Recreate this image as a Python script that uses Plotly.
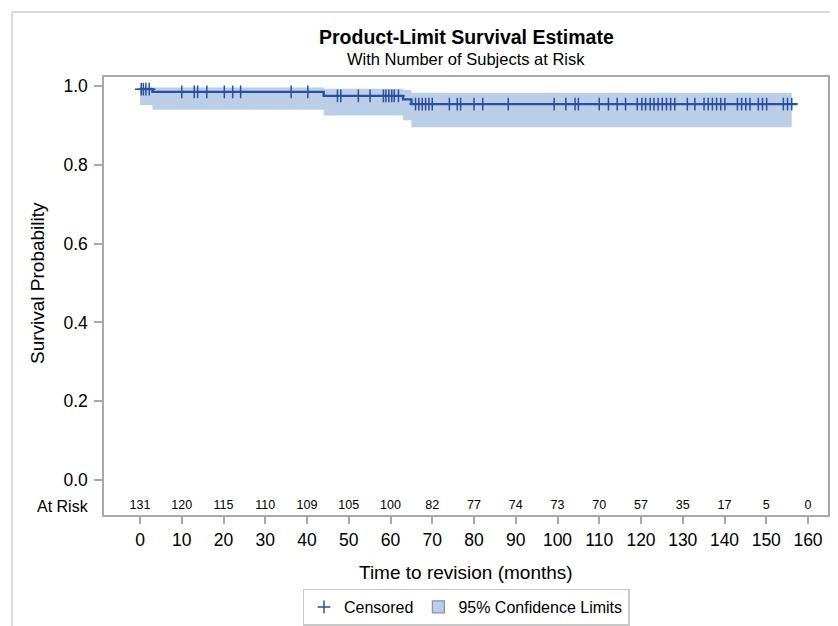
import plotly.graph_objects as go

# ---- data ----
event_times = [0, 3, 44, 63, 65]
survival = [0.992, 0.985, 0.975, 0.966, 0.954]
curve_end = 157.3

ci_times = [0, 3, 44, 63, 65]
ci_upper = [0.998, 0.996, 0.993, 0.990, 0.983]
ci_lower = [0.952, 0.940, 0.925, 0.913, 0.895]
ci_end = 156.1

censored_times = [0.3, 0.8, 1.4, 2.2, 10.0, 13.0, 13.8, 16.0, 20.2, 22.2, 24.1,
                  36.2, 40.2, 47.3, 48.1, 52.3, 55.1, 58.3, 58.9, 59.6, 60.3,
                  60.9, 61.9, 66.0, 66.8, 67.6, 68.4, 69.2, 70.0, 74.1, 76.0,
                  76.8, 80.0, 82.1, 88.2, 99.2, 102.0, 104.2, 105.0, 110.0,
                  112.2, 114.3, 116.3, 119.1, 120.2, 121.1, 122.2, 123.1,
                  124.1, 125.1, 126.1, 127.1, 128.1, 131.1, 132.9, 135.1,
                  136.1, 137.1, 138.1, 139.1, 140.1, 143.1, 144.1, 145.1,
                  146.1, 148.1, 149.1, 150.1, 154.1, 155.1, 156.1]

risk_times = [0, 10, 20, 30, 40, 50, 60, 70, 80, 90, 100, 110, 120, 130, 140, 150, 160]
at_risk = [131, 120, 115, 110, 109, 105, 100, 82, 77, 74, 73, 70, 57, 35, 17, 5, 0]

x_ticks = list(range(0, 161, 10))
y_ticks = [0.0, 0.2, 0.4, 0.6, 0.8, 1.0]
y_tick_labels = ["0.0", "0.2", "0.4", "0.6", "0.8", "1.0"]

# ---- styling ----
FONT = "Liberation Sans, Arial, sans-serif"
LINE_C = "#2B4FA0"
BAND_C = "#BACEE7"
AXIS_C = "#A8A8A8"

OFF = 8  # page body margin of the html page
# plot area in reference (screen) pixels
L0, R0, T0, B0 = 104, 828, 77, 515
W, H = 838 - OFF, 626 - OFF
L, R, T, B = L0 - OFF, R0 - OFF, T0 - OFF, B0 - OFF
PW, PH = R - L, B - T


def px_x(px):
    return (px - L0) / PW


def px_y(py):
    return (B0 - py) / PH


def step_path(times, values, end):
    xs, ys = [], []
    for i, (t, v) in enumerate(zip(times, values)):
        nxt = times[i + 1] if i + 1 < len(times) else end
        xs += [t, nxt]
        ys += [v, v]
    return xs, ys


def surv_at(t):
    val = survival[0]
    for et, s in zip(event_times, survival):
        if t >= et:
            val = s
    return val


ux, uy = step_path(ci_times, ci_upper, ci_end)
lx, ly = step_path(ci_times, ci_lower, ci_end)
band_x = ux + lx[::-1]
band_y = uy + ly[::-1]

sx, sy = step_path(event_times, survival, curve_end)

fig = go.Figure()

fig.add_trace(go.Scatter(
    x=band_x, y=band_y, fill="toself", fillcolor=BAND_C,
    line=dict(width=0, color=BAND_C), mode="lines",
    showlegend=False, hoverinfo="skip"))

fig.add_trace(go.Scatter(
    x=sx, y=sy, mode="lines", line=dict(color=LINE_C, width=2.4),
    showlegend=False, hoverinfo="skip"))

fig.add_trace(go.Scatter(
    x=censored_times, y=[surv_at(t) for t in censored_times], mode="markers",
    marker=dict(symbol="cross-thin", size=9, line=dict(color=LINE_C, width=1.5),
                color=LINE_C),
    name="Censored", legendrank=1))

# legend-only entry for the confidence band (square swatch)
fig.add_trace(go.Scatter(
    x=[None], y=[None], mode="markers",
    marker=dict(symbol="square", size=12, color=BAND_C,
                line=dict(color="#7F93B8", width=1.2)),
    name="95% Confidence Limits", legendrank=2))

fig.add_trace(go.Scatter(
    x=risk_times, y=[-0.066] * len(risk_times), mode="text",
    text=[str(v) for v in at_risk], textposition="middle center",
    textfont=dict(family=FONT, size=12.5, color="#000000"),
    showlegend=False, hoverinfo="skip"))

annotations = [
    dict(text="<b>Product-Limit Survival Estimate</b>", x=px_x(466), y=px_y(37),
         xref="paper", yref="paper", showarrow=False, xanchor="center", yanchor="middle",
         font=dict(family=FONT, size=19.5, color="#000000")),
    dict(text="With Number of Subjects at Risk", x=px_x(466), y=px_y(59),
         xref="paper", yref="paper", showarrow=False, xanchor="center", yanchor="middle",
         font=dict(family=FONT, size=16.5, color="#000000")),
    dict(text="At Risk", x=px_x(91), y=-0.066, xref="paper", yref="y",
         showarrow=False, xanchor="right", yanchor="middle",
         font=dict(family=FONT, size=16, color="#000000")),
    dict(text="Survival Probability", x=px_x(37), y=px_y(283), xref="paper", yref="paper",
         showarrow=False, xanchor="center", yanchor="middle", textangle=-90,
         font=dict(family=FONT, size=19, color="#000000")),
    dict(text="Time to revision (months)", x=px_x(466), y=px_y(572), xref="paper",
         yref="paper", showarrow=False, xanchor="center", yanchor="middle",
         font=dict(family=FONT, size=19, color="#000000")),
]

shapes = [
    dict(type="line", xref="paper", yref="paper", x0=px_x(12), x1=px_x(850),
         y0=px_y(12), y1=px_y(12), line=dict(color="#D0D0D0", width=1.5)),
    dict(type="line", xref="paper", yref="paper", x0=px_x(12), x1=px_x(12),
         y0=px_y(12), y1=px_y(640), line=dict(color="#D0D0D0", width=1.5)),
]

fig.update_layout(
    width=W, height=H,
    margin=dict(l=L, r=W - R, t=T, b=H - B, autoexpand=False),
    paper_bgcolor="white", plot_bgcolor="white",
    font=dict(family=FONT, color="#000000"),
    annotations=annotations, shapes=shapes,
    legend=dict(orientation="h", x=0.5, xanchor="center", y=px_y(607), yanchor="middle",
                bordercolor="#C8C8C8", borderwidth=1.5, bgcolor="white",
                font=dict(family=FONT, size=16, color="#000000"),
                tracegroupgap=0),
    hovermode=False,
)

fig.update_xaxes(
    range=[(L0 - 140) / 4.175, (R0 - 140) / 4.175], tickvals=x_ticks,
    ticks="outside", ticklen=7, tickcolor=AXIS_C, tickwidth=1.5,
    ticklabelstandoff=1, automargin=False,
    tickfont=dict(family=FONT, size=17.5, color="#000000"),
    showline=True, linecolor=AXIS_C, linewidth=1.5, mirror=True,
    showgrid=False, zeroline=False)

fig.update_yaxes(
    range=[-(B0 - 480) / 394, 1 + (86 - T0) / 394], tickvals=y_ticks, ticktext=y_tick_labels,
    ticks="outside", ticklen=8, tickcolor=AXIS_C, tickwidth=1.5,
    ticklabelstandoff=3, automargin=False,
    tickfont=dict(family=FONT, size=17.5, color="#000000"),
    showline=True, linecolor=AXIS_C, linewidth=1.5, mirror=True,
    showgrid=False, zeroline=False)

fig.write_html("out.html")
